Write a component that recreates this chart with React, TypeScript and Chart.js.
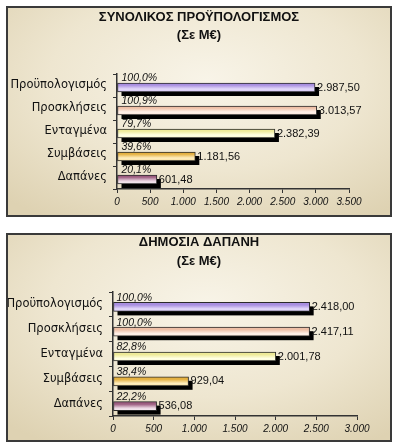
import React, { useEffect, useRef } from "react";
import { Chart, registerables } from "chart.js";

Chart.register(...registerables);

const categories = ["Προϋπολογισμός", "Προσκλήσεις", "Ενταγμένα", "Συμβάσεις", "Δαπάνες"];

const totalTitle = ["ΣΥΝΟΛΙΚΟΣ ΠΡΟΫΠΟΛΟΓΙΣΜΟΣ", "(Σε Μ€)"];
const totalValues = [2987.5, 3013.57, 2382.39, 1181.56, 601.48];
const totalPercents = [100.0, 100.9, 79.7, 39.6, 20.1];
const totalTicks = [0, 500, 1000, 1500, 2000, 2500, 3000, 3500];

const publicTitle = ["ΔΗΜΟΣΙΑ ΔΑΠΑΝΗ", "(Σε Μ€)"];
const publicValues = [2418.0, 2417.11, 2001.78, 929.04, 536.08];
const publicPercents = [100.0, 100.0, 82.8, 38.4, 22.2];
const publicTicks = [0, 500, 1000, 1500, 2000, 2500, 3000];

// [top, middle, bottom] gradient stops per category
const barColors = [
  ["#a88ee0", "#e4dafa", "#c6b4f0"],
  ["#eebfa6", "#fff2ea", "#f8d8c6"],
  ["#eeea98", "#ffffe4", "#f8f4c0"],
  ["#e4b040", "#ffeec0", "#f4d484"],
  ["#9c5c80", "#ecd8e4", "#ffffff"],
];

function grFmt(v: number, d: number): string {
  const s = v.toFixed(d);
  const [i, f] = s.split(".");
  const ii = i.replace(/\B(?=(\d{3})+(?!\d))/g, ".");
  return f ? ii + "," + f : ii;
}

type Cfg = {
  title: string[];
  values: number[];
  percents: number[];
  ticks: number[];
  width: number;
  height: number;
  yWidth: number;
  padTop: number;
  padRight: number;
  titleY: number;
  xHeight: number;
  dy: number;
  pctDx: number;
};

function BarPanel({ cfg }: { cfg: Cfg }) {
  const ref = useRef<HTMLCanvasElement>(null);
  useEffect(() => {
    const canvas = ref.current;
    if (!canvas) return;
    const barH = 9;
    const dy = cfg.dy;
    const sh = 4;

    const titlePlugin = {
      id: "panelTitle",
      afterDraw(chart: any) {
        const ctx = chart.ctx;
        ctx.save();
        ctx.fillStyle = "#111111";
        ctx.font = "bold 13px 'Liberation Sans', Arial, sans-serif";
        ctx.textAlign = "center";
        ctx.textBaseline = "middle";
        cfg.title.forEach((t, i) => {
          ctx.fillText(t, chart.width / 2, cfg.titleY + i * 18.5);
        });
        ctx.restore();
      },
    };

    const shadowPlugin = {
      id: "shadow3d",
      beforeDatasetDraw(chart: any, args: any) {
        const ctx = chart.ctx;
        ctx.save();
        ctx.translate(0, dy);
        ctx.fillStyle = "#000000";
        args.meta.data.forEach((el: any) => {
          const p = el.getProps(["x", "y", "base", "height"], true);
          const l = Math.min(p.x, p.base);
          const r = Math.max(p.x, p.base);
          ctx.fillRect(l + sh, p.y - p.height / 2 + sh, r - l, p.height);
        });
      },
      afterDatasetDraw(chart: any) {
        chart.ctx.restore();
      },
    };

    const labelPlugin = {
      id: "barLabels",
      afterDatasetsDraw(chart: any) {
        const ctx = chart.ctx;
        const meta = chart.getDatasetMeta(0);
        ctx.save();
        ctx.textBaseline = "middle";
        ctx.textAlign = "left";
        meta.data.forEach((el: any, i: number) => {
          const p = el.getProps(["x", "y", "base"], true);
          ctx.fillStyle = "#111111";
          ctx.font = "11px 'Liberation Sans', Arial, sans-serif";
          ctx.fillText(grFmt(cfg.values[i], 2), p.x + 2, p.y + dy);
          ctx.font = "italic 10.5px 'Liberation Sans Narrow', 'Liberation Sans', Arial, sans-serif";
          ctx.fillText(grFmt(cfg.percents[i], 1) + "%", p.base + cfg.pctDx, p.y + dy - 9);
        });
        ctx.restore();
      },
    };

    const chart = new Chart(canvas, {
      type: "bar",
      data: {
        labels: categories,
        datasets: [
          {
            data: cfg.values,
            barThickness: barH,
            borderWidth: 1,
            borderColor: "#2a2a2a",
            borderSkipped: false,
            backgroundColor: (c: any) => {
              const cols = barColors[c.dataIndex % barColors.length];
              const y = c.chart.scales && c.chart.scales.y;
              if (!y || y.top === undefined) return cols[1];
              const cy = y.getPixelForValue(c.dataIndex) + dy;
              const g = c.chart.ctx.createLinearGradient(0, cy - barH / 2, 0, cy + barH / 2);
              g.addColorStop(0, cols[0]);
              g.addColorStop(0.45, cols[1]);
              g.addColorStop(1, cols[2]);
              return g;
            },
          },
        ],
      },
      options: {
        indexAxis: "y",
        responsive: false,
        animation: false,
        devicePixelRatio: 1,
        layout: { padding: { top: cfg.padTop, right: cfg.padRight, bottom: 0, left: 0 } },
        plugins: {
          legend: { display: false },
          tooltip: { enabled: false },
          title: { display: false },
        },
        scales: {
          x: {
            type: "linear",
            min: cfg.ticks[0],
            max: cfg.ticks[cfg.ticks.length - 1],
            afterBuildTicks: (s: any) => {
              s.ticks = cfg.ticks.map((v) => ({ value: v }));
            },
            afterFit: (s: any) => {
              s.height = cfg.xHeight;
            },
            grid: { drawOnChartArea: false, tickLength: 4, color: "#333333", lineWidth: 1 },
            border: { display: true, color: "#333333", width: 1.5 },
            ticks: {
              color: "#111111",
              padding: 3,
              maxRotation: 0,
              autoSkip: false,
              font: { family: "'Liberation Sans', Arial, sans-serif", size: 10, style: "italic" },
              callback: (v: any) => grFmt(Number(v), 0),
            },
          },
          y: {
            type: "category",
            afterFit: (s: any) => {
              s.width = cfg.yWidth;
            },
            grid: { drawOnChartArea: false, tickLength: 4, color: "#333333", offset: true },
            border: { display: true, color: "#333333", width: 1.5 },
            ticks: {
              color: "#111111",
              padding: 6,
              font: { family: "'DejaVu Sans', Verdana, sans-serif", size: 11.5 },
            },
          },
        },
      } as any,
      plugins: [shadowPlugin, labelPlugin, titlePlugin],
    });
    return () => chart.destroy();
  }, [cfg]);
  return <canvas ref={ref} width={cfg.width} height={cfg.height} style={{ display: "block" }} />;
}

const totalCfg: Cfg = {
  title: totalTitle,
  values: totalValues,
  percents: totalPercents,
  ticks: totalTicks,
  width: 382,
  height: 207,
  yWidth: 109,
  padTop: 66,
  padRight: 41,
  titleY: 9,
  xHeight: 26,
  dy: 2,
  pctDx: 4,
};

const publicCfg: Cfg = {
  title: publicTitle,
  values: publicValues,
  percents: publicPercents,
  ticks: publicTicks,
  width: 382,
  height: 205,
  yWidth: 105,
  padTop: 57,
  padRight: 33,
  titleY: 7.5,
  xHeight: 24,
  dy: 2.5,
  pctDx: 3,
};

const panelStyle = (top: number, h: number): React.CSSProperties => ({
  position: "absolute",
  left: 6,
  top,
  width: 382,
  height: h,
  border: "2px solid #3a3a3a",
  background:
    "radial-gradient(ellipse 75% 80% at 52% 35%, #f8f4e8 0%, #eee6d0 55%, #ded2b2 100%)",
});

export default function App() {
  return (
    <div style={{ position: "absolute", left: 0, top: 0, width: 398, height: 448, background: "#ffffff" }}>
      <div style={panelStyle(6, 207)}>
        <BarPanel cfg={totalCfg} />
      </div>
      <div style={panelStyle(233, 205)}>
        <BarPanel cfg={publicCfg} />
      </div>
    </div>
  );
}
